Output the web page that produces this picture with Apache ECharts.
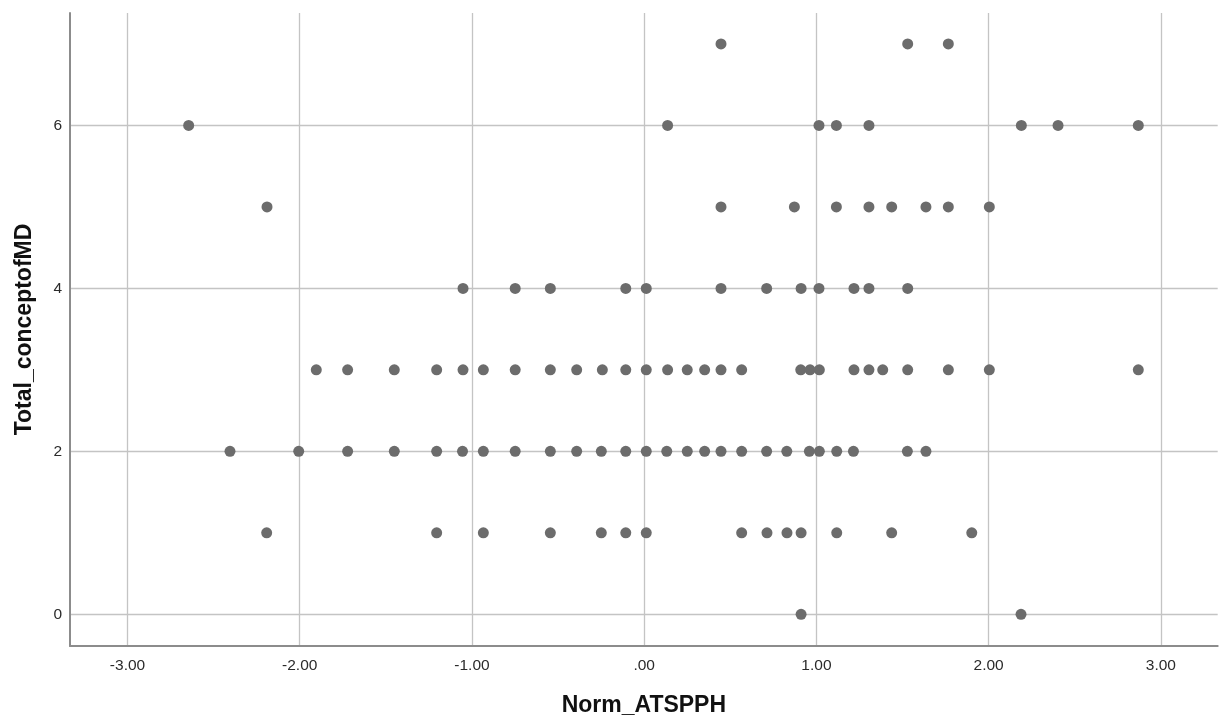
<!DOCTYPE html>
<html>
<head>
<meta charset="utf-8">
<title>Norm_ATSPPH vs Total_conceptofMD</title>
<script src="https://cdn.jsdelivr.net/npm/echarts@6/dist/echarts.min.js"></script>
<style>
  html, body { margin: 0; padding: 0; background: #ffffff; }
  #chart { width: 1227px; height: 726px; }
</style>
</head>
<body>
<div id="chart"></div>
<script>
// Norm_ATSPPH scores, grouped by Total_conceptofMD value
const atsAt0 = [0.911, 2.188];
const atsAt1 = [-2.192, -1.205, -0.934, -0.545, -0.249, -0.107, 0.012, 0.566, 0.713, 0.829, 0.911, 1.118, 1.437, 1.902];
const atsAt2 = [-2.405, -2.006, -1.722, -1.451, -1.205, -1.055, -0.934, -0.749, -0.545, -0.392, -0.249, -0.107, 0.012, 0.131, 0.250, 0.351, 0.446, 0.566, 0.711, 0.828, 0.959, 1.017, 1.118, 1.215, 1.528, 1.636];
const atsAt3 = [-1.904, -1.722, -1.451, -1.205, -1.052, -0.934, -0.749, -0.545, -0.392, -0.243, -0.107, 0.012, 0.136, 0.250, 0.351, 0.446, 0.566, 0.909, 0.963, 1.017, 1.218, 1.305, 1.385, 1.530, 1.766, 2.004, 2.869];
const atsAt4 = [-1.052, -0.749, -0.545, -0.107, 0.012, 0.446, 0.711, 0.911, 1.015, 1.218, 1.305, 1.530];
const atsAt5 = [-2.190, 0.446, 0.872, 1.116, 1.305, 1.437, 1.636, 1.766, 2.004];
const atsAt6 = [-2.645, 0.136, 1.015, 1.116, 1.305, 2.190, 2.403, 2.869];
const atsAt7 = [0.446, 1.530, 1.766];

// Axis ticks and their printed labels
const xTickValues = [-3, -2, -1, 0, 1, 2, 3];
const xTickLabels = ['-3.00', '-2.00', '-1.00', '.00', '1.00', '2.00', '3.00'];
const yTickValues = [0, 2, 4, 6];
const yTickLabels = ['0', '2', '4', '6'];

const groups = [atsAt0, atsAt1, atsAt2, atsAt3, atsAt4, atsAt5, atsAt6, atsAt7];
const points = [];
groups.forEach(function (xs, level) {
  xs.forEach(function (x) { points.push([x, level]); });
});

function labelFor(values, labels) {
  return function (v) {
    for (let i = 0; i < values.length; i++) {
      if (Math.abs(values[i] - v) < 1e-9) return labels[i];
    }
    return '';
  };
}

const chart = echarts.init(document.getElementById('chart'), null, { renderer: 'canvas' });

const gridLine = { show: true, lineStyle: { color: '#c4c4c4', width: 1.3 } };
const axisLine = { show: true, onZero: false, lineStyle: { color: '#8c8c8c', width: 2 } };
const tickFont = { fontFamily: 'Liberation Sans, Arial, sans-serif', fontSize: 15.5, color: '#2b2b2b' };
const nameFont = { fontFamily: 'Liberation Sans, Arial, sans-serif', fontSize: 23, fontWeight: 'bold', color: '#111111' };

chart.setOption({
  animation: false,
  backgroundColor: '#ffffff',
  grid: { left: 70, right: 9.3, top: 13, bottom: 80, containLabel: false },
  xAxis: {
    type: 'value',
    min: -3.334,
    max: 3.330,
    name: 'Norm_ATSPPH',
    nameLocation: 'middle',
    nameGap: 48,
    nameTextStyle: nameFont,
    axisLine: axisLine,
    axisTick: { show: false, customValues: xTickValues },
    axisLabel: Object.assign({ customValues: xTickValues, margin: 12, formatter: labelFor(xTickValues, xTickLabels) }, tickFont),
    splitLine: gridLine
  },
  yAxis: {
    type: 'value',
    min: -0.389,
    max: 7.38,
    name: 'Total_conceptofMD',
    nameLocation: 'middle',
    nameRotate: 90,
    nameGap: 34,
    nameTextStyle: nameFont,
    axisLine: axisLine,
    axisTick: { show: false, customValues: yTickValues },
    axisLabel: Object.assign({ customValues: yTickValues, margin: 8, formatter: labelFor(yTickValues, yTickLabels) }, tickFont),
    splitLine: gridLine
  },
  series: [{
    type: 'scatter',
    data: points,
    symbol: 'circle',
    symbolSize: 11,
    itemStyle: { color: '#6c6c6c', opacity: 1 },
    emphasis: { disabled: true }
  }]
});
</script>
</body>
</html>
